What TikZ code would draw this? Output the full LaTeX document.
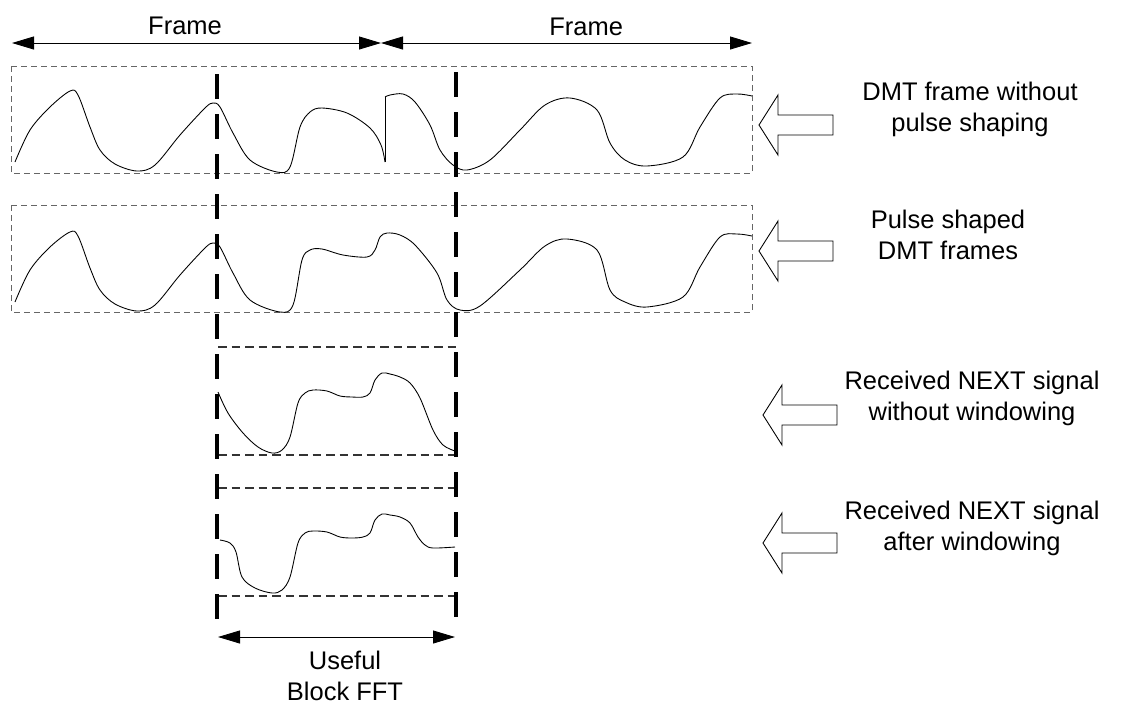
\documentclass[tikz,border=0pt]{standalone}
\usepackage{fontspec}
\setmainfont{Liberation Sans}
\usetikzlibrary{arrows.meta}

\tikzset{
  lbl/.style={align=center, inner sep=0pt, font=\fontsize{14.5}{17.6}\selectfont},
  winbox/.style={draw=black!60, line width=0.5pt, dash pattern=on 1.2mm off 0.8mm},
  cut/.style={draw=black!80, line width=0.6pt, dash pattern=on 1.7mm off 1mm},
  fftmark/.style={draw, line width=2.3pt, dash pattern=on 5mm off 3mm},
  wave/.style={draw, line width=0.5pt},
  dim/.style={draw, line width=0.5pt, <->},
  blockarr/.pic={\draw[line width=0.5pt] (0,0) -- (19,-30) -- (19,-10) -- (74,-10)
                  -- (74,10) -- (19,10) -- (19,30) -- cycle;}
}

\begin{document}
\begin{tikzpicture}[x=0.2mm, y=-0.2mm, >={Triangle[length=4.4mm, width=2.6mm]}]
\useasboundingbox (0,0) rectangle (1121,706);

% frame lengths on top
\coordinate (a) at (12,43);
\coordinate (b) at (381,43);
\coordinate (c) at (752,43);
\path (a) edge[dim] node[lbl, pos=0.469, above=1.5mm] (1) {Frame} (b)
      (b) edge[dim] node[lbl, pos=0.553, above=1.4mm] (2) {Frame} (c);

% dashed windows round the two upper signals
\draw[winbox] (11,66) rectangle (752,173);
\draw[winbox] (11,205) rectangle (752,312);

% DMT frames, no pulse shaping
\draw[wave] plot[smooth, tension=0.55] coordinates {(15,162) (30,130) (50,107) (70,91)
  (78,95) (90,127) (100,150) (115,164) (137,171) (155,165) (180,135) (205,108) (213,103)
  (220,107) (233,133) (250,160) (277,172) (290,167) (300,127) (310,112) (322,108)
  (347,113) (370,128) (381,145) (385,162)};
\draw[wave] (385,162) -- (385,97);
\draw[wave] plot[smooth, tension=0.55] coordinates {(385,97) (390,95) (403,94) (415,102)
  (430,125) (440,150) (453,165) (467,170) (490,160) (520,130) (545,105) (570,98)
  (597,110) (610,143) (625,160) (647,166) (683,157) (700,127) (720,98) (737,94) (752,96)};

% pulse shaped frames
\draw[wave] plot[smooth, tension=0.55] coordinates {(15,302) (30,270) (50,247) (70,232)
  (78,236) (90,268) (100,290) (115,304) (137,311) (155,305) (180,275) (205,248) (213,243)
  (220,247) (233,273) (250,300) (280,312) (293,305) (302,260) (310,250) (322,249)
  (343,255) (367,257) (375,250) (380,237) (387,233) (400,235) (415,245) (437,273)
  (447,300) (460,310) (480,306) (520,270) (545,246) (567,239) (597,250) (610,290)
  (625,302) (647,307) (683,297) (700,267) (720,237) (737,234) (752,236)};

% NEXT signal seen through the useful block
\draw[cut] (218,347) -- (456,347);
\draw[wave] plot[smooth, tension=0.55] coordinates {(218,392) (228,413) (243,433)
  (258,447) (272,453) (282,450) (290,437) (298,403) (305,393) (313,390) (327,391)
  (340,396) (352,397) (363,397) (370,393) (375,380) (382,373) (390,374) (400,377)
  (410,383) (420,398) (433,430) (443,445) (455,451)};
\draw[cut] (218,455) -- (456,455);

\draw[cut] (218,488) -- (456,488);
\draw[wave] plot[smooth, tension=0.55] coordinates {(220,540) (230,543) (236,552)
  (242,577) (255,588) (272,593) (282,590) (290,577) (298,543) (305,533) (313,531)
  (327,532) (340,537) (352,538) (363,537) (370,533) (375,520) (382,514) (390,515)
  (400,517) (410,523) (418,537) (425,545) (433,548) (455,547)};
\draw[cut] (218,596) -- (456,596);

% FFT block limits
\coordinate (t1) at (217,74);
\coordinate (b1) at (217,629);
\coordinate (t2) at (456,72);
\coordinate (b2) at (456,629);
\draw[fftmark] (t1) -- (b1);
\draw[fftmark] (t2) -- (b2);

\coordinate (d) at (218,637);
\coordinate (e) at (455,637);
\path (d) edge[dim] node[lbl, pos=0.536, below=2.8mm] (3) {Useful\\Block FFT} (e);

% captions and their arrows
\pic at (759,125) {blockarr};
\pic at (759,251) {blockarr};
\pic at (763,415) {blockarr};
\pic at (763,543) {blockarr};

\node (4) [lbl] at (970,109.5) {DMT frame without\\pulse shaping};
\node (5) [lbl] at (948,235) {Pulse shaped\\DMT frames};
\node (6) [lbl] at (972,398.5) {Received NEXT signal\\without windowing};
\node (7) [lbl] [below of = 6, node distance=2.6cm] {Received NEXT signal\\after windowing};
\end{tikzpicture}
\end{document}
